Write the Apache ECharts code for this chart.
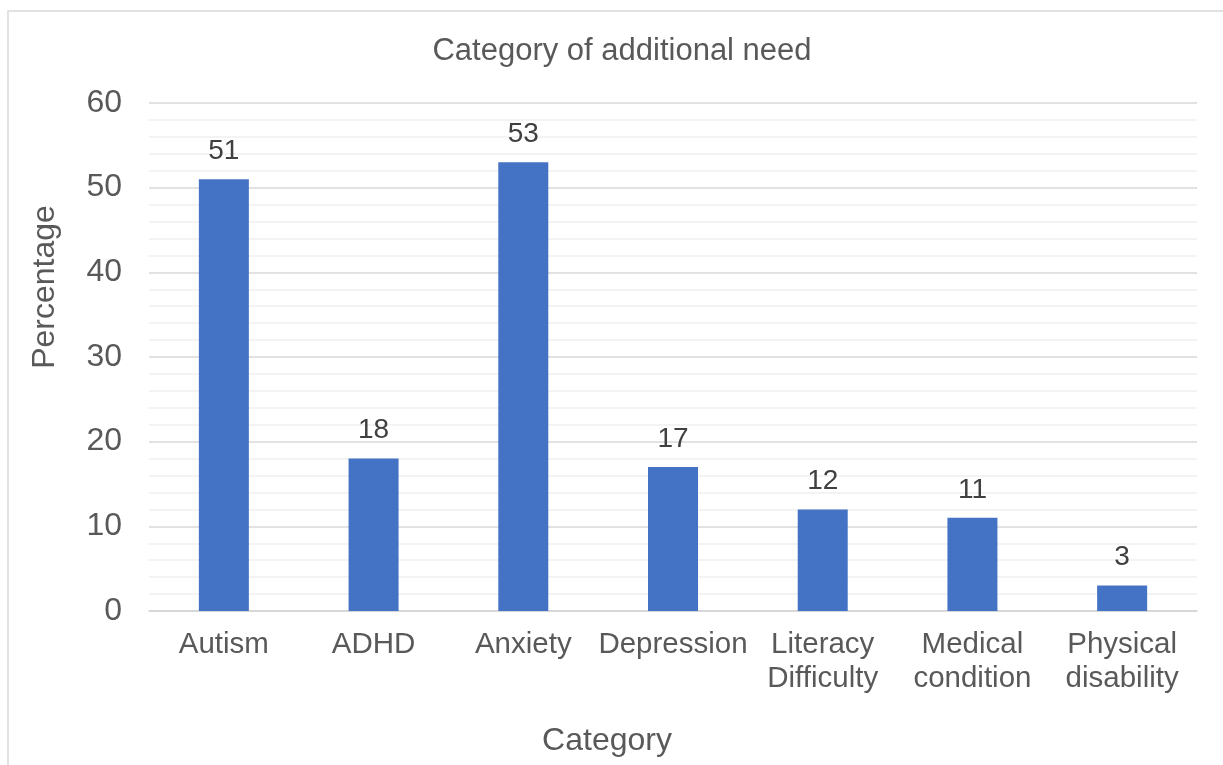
<!DOCTYPE html>
<html>
<head>
<meta charset="utf-8">
<script src="https://cdn.jsdelivr.net/npm/echarts@6/dist/echarts.min.js"></script>
<style>
  html, body { margin: 0; padding: 0; background: #ffffff; }
  #chart { width: 1223px; height: 765px; }
</style>
</head>
<body>
<div id="chart"></div>
<script>
// Additional need categories and the percentage of respondents in each
const categories = ['Autism', 'ADHD', 'Anxiety', 'Depression', 'Literacy Difficulty', 'Medical condition', 'Physical disability'];
const percentages = [51, 18, 53, 17, 12, 11, 3];
const yTicks = [0, 10, 20, 30, 40, 50, 60];

const FONT = "'Liberation Sans', Arial, sans-serif";
const GREY_TEXT = '#595959';

const chart = echarts.init(document.getElementById('chart'), null, { renderer: 'canvas' });

chart.setOption({
  animation: false,
  backgroundColor: '#ffffff',
  title: {
    text: 'Category of additional need',
    left: 617,
    top: 31,
    textAlign: 'center',
    textStyle: { fontFamily: FONT, fontSize: 31, fontWeight: 'normal', color: GREY_TEXT }
  },
  grid: { left: 149, right: 26, top: 103, bottom: 154, containLabel: false },
  xAxis: {
    type: 'category',
    data: categories,
    axisLine: { show: true, lineStyle: { color: '#d4d4d4', width: 1.5 } },
    axisTick: { show: false },
    axisLabel: {
      interval: 0,
      margin: 17,
      fontFamily: FONT,
      fontSize: 29.5,
      lineHeight: 34,
      color: GREY_TEXT,
      formatter: v => v.replace(' ', '\n')
    }
  },
  yAxis: {
    type: 'value',
    min: yTicks[0],
    max: yTicks[yTicks.length - 1],
    interval: 10,
    axisLine: { show: false },
    axisTick: { show: false },
    axisLabel: { margin: 27, fontFamily: FONT, fontSize: 32, color: GREY_TEXT },
    splitLine: { show: true, lineStyle: { color: '#d9d9d9', width: 1.5 } },
    minorTick: { show: false, splitNumber: 5 },
    minorSplitLine: { show: true, lineStyle: { color: '#f0f0f0', width: 1.5 } }
  },
  series: [{
    type: 'bar',
    data: percentages,
    barWidth: 50,
    itemStyle: { color: '#4472c4' },
    label: {
      show: true,
      position: 'top',
      distance: 14,
      fontFamily: FONT,
      fontSize: 28,
      color: '#404040'
    }
  }],
  graphic: [
    {
      type: 'rect',
      silent: true,
      shape: { x: 8, y: 11, width: 1300, height: 900 },
      style: { fill: 'none', stroke: '#d9d9d9', lineWidth: 1.5 }
    },
    {
      type: 'text',
      silent: true,
      x: 45,
      y: 287,
      rotation: Math.PI / 2,
      style: {
        text: 'Percentage',
        fontFamily: FONT,
        fontSize: 32,
        fill: GREY_TEXT,
        align: 'center',
        verticalAlign: 'middle'
      }
    },
    {
      type: 'text',
      silent: true,
      x: 607,
      y: 741,
      style: {
        text: 'Category',
        fontFamily: FONT,
        fontSize: 32,
        fill: GREY_TEXT,
        align: 'center',
        verticalAlign: 'middle'
      }
    }
  ]
});
</script>
</body>
</html>
